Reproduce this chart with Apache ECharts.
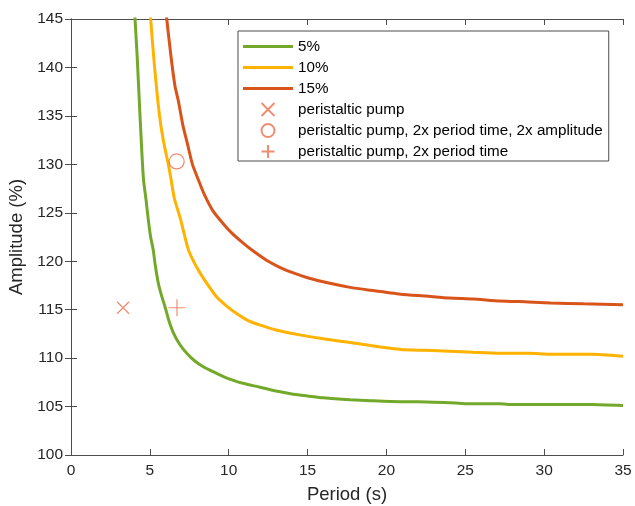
<!DOCTYPE html>
<html>
<head>
<meta charset="utf-8">
<script src="https://cdn.jsdelivr.net/npm/echarts@6/dist/echarts.min.js"></script>
<style>html,body{margin:0;padding:0;background:#fff}#c{width:635px;height:506px}</style>
</head>
<body>
<div id="c"></div>
<script>
// ---- data ----
const xTicks = [0, 5, 10, 15, 20, 25, 30, 35];
const yTicks = [100, 105, 110, 115, 120, 125, 130, 135, 140, 145];

const p5X  = [4.00, 4.06, 4.2, 4.37, 4.5, 4.6, 4.76, 4.9, 5.05, 5.21, 5.35, 5.54, 5.75, 5.96, 6.2, 6.49, 6.9, 7.34, 7.85, 8.39, 9.0, 9.66, 10.3, 10.9, 11.98, 13, 14, 15, 16, 17.7, 19, 20.9, 22, 24, 25, 27.2, 28, 30.4, 33, 35];
const p5Y  = [147, 145, 141, 135.2, 131, 128.4, 126.3, 124.3, 122.5, 121.2, 119.5, 117.7, 116.4, 115.3, 113.9, 112.6, 111.4, 110.5, 109.7, 109.1, 108.6, 108.1, 107.7, 107.4, 107.0, 106.6, 106.3, 106.1, 105.9, 105.7, 105.6, 105.5, 105.5, 105.4, 105.3, 105.3, 105.2, 105.2, 105.2, 105.1];

const p10X = [4.98, 5.05, 5.3, 5.6, 5.85, 6.17, 6.35, 6.55, 6.95, 7.44, 7.8, 8.18, 8.7, 9.24, 9.85, 10.5, 11.2, 12, 13, 14.5, 16, 17.7, 19, 20.9, 22.5, 24, 25.5, 27.2, 29, 30.4, 33, 35];
const p10Y = [147, 145, 140, 135.2, 132.5, 130, 128.4, 126.5, 124.3, 121.2, 119.9, 118.8, 117.5, 116.3, 115.4, 114.6, 113.9, 113.4, 112.9, 112.4, 112, 111.6, 111.3, 110.9, 110.8, 110.7, 110.6, 110.5, 110.5, 110.4, 110.4, 110.2];

const p15X = [5.95, 6.07, 6.35, 6.6, 6.8, 7.1, 7.4, 7.7, 8.1, 8.45, 9.0, 9.64, 10.2, 10.9, 11.6, 12.4, 13.2, 14.1, 15, 16.2, 17.7, 19, 20.9, 22.5, 24, 25.5, 27.2, 29, 30.4, 32.5, 35];
const p15Y = [147, 145, 141, 138, 136.6, 134, 132, 130, 128.3, 126.9, 125.2, 123.9, 122.9, 121.9, 121.0, 120.1, 119.4, 118.8, 118.3, 117.8, 117.3, 117, 116.6, 116.4, 116.2, 116.1, 115.9, 115.8, 115.7, 115.6, 115.5];

const pumpPoint = [3.3, 115.2];
const pump2x2xPoint = [6.7, 130.3];
const pump2xPoint = [6.72, 115.2];

const names = ['5%', '10%', '15%', 'peristaltic pump', 'peristaltic pump, 2x period time, 2x amplitude', 'peristaltic pump, 2x period time'];
// ---- end data ----

const zip = (xs, ys) => xs.map((x, i) => [x, ys[i]]);
const FONT = '"Liberation Sans", Arial, Helvetica, sans-serif';
const AX = '#4d4d4d';
const MARK = '#ec6f4f';
const lineIcon = 'path://M0,0H50V3H0Z';
const crossPath = 'path://M0,0L10,10M10,0L0,10';
const plusPath = 'path://M5,0L5,10M0,5L10,5';

const chart = echarts.init(document.getElementById('c'), null, {renderer: 'canvas'});

const baseX = {
  type: 'value', min: xTicks[0], max: xTicks[xTicks.length - 1], interval: 5,
  axisLine: {show: true, lineStyle: {color: AX, width: 1}},
  axisTick: {show: true, inside: true, length: 6, lineStyle: {color: AX}},
  splitLine: {show: false}
};
const baseY = {
  type: 'value', min: yTicks[0], max: yTicks[yTicks.length - 1], interval: 5,
  axisLine: {show: true, lineStyle: {color: AX, width: 1}},
  axisTick: {show: true, inside: true, length: 6, lineStyle: {color: AX}},
  splitLine: {show: false}
};

const lineSeries = (name, xs, ys, color) => ({
  name, type: 'line', data: zip(xs, ys), symbol: 'none', showSymbol: false, smooth: 0.2,
  lineStyle: {color, width: 3}, itemStyle: {color}, clip: true, z: 2, animation: false
});

chart.setOption({
  animation: false,
  backgroundColor: '#fff',
  textStyle: {fontFamily: FONT},
  grid: {left: 71, right: 12, top: 19, bottom: 51, containLabel: false, outerBoundsMode: 'none'},
  xAxis: [
    Object.assign({}, baseX, {
      position: 'bottom',
      name: 'Period (s)', nameLocation: 'middle', nameGap: 30,
      nameTextStyle: {fontSize: 18.5, color: '#262626', fontFamily: FONT},
      axisLabel: {show: true, margin: 8, fontSize: 15.5, color: '#262626', fontFamily: FONT}
    }),
    Object.assign({}, baseX, {position: 'top', axisLabel: {show: false}})
  ],
  yAxis: [
    Object.assign({}, baseY, {
      position: 'left',
      name: 'Amplitude (%)', nameLocation: 'middle', nameGap: 36,
      nameTextStyle: {fontSize: 18.5, color: '#262626', fontFamily: FONT},
      axisLabel: {show: true, margin: 8, fontSize: 15.5, color: '#262626', fontFamily: FONT}
    }),
    Object.assign({}, baseY, {position: 'right', axisLabel: {show: false}})
  ],
  legend: {
    orient: 'vertical', left: 238, top: 31,
    padding: [8, 6, 2, 5],
    backgroundColor: '#fff', borderColor: '#4d4d4d', borderWidth: 1, borderRadius: 0,
    itemWidth: 50, itemHeight: 13, itemGap: 6,
    textStyle: {fontSize: 15.2, color: '#000', fontFamily: FONT, lineHeight: 14},
    data: [
      {name: names[0], icon: lineIcon},
      {name: names[1], icon: lineIcon},
      {name: names[2], icon: lineIcon},
      {name: names[3], icon: crossPath},
      {name: names[4], icon: 'circle'},
      {name: names[5], icon: plusPath}
    ]
  },
  series: [
    lineSeries(names[0], p5X, p5Y, '#72a92a'),
    lineSeries(names[1], p10X, p10Y, '#ffb200'),
    lineSeries(names[2], p15X, p15Y, '#d9541a'),
    {name: names[3], type: 'scatter', data: [pumpPoint], symbol: crossPath, symbolSize: 12,
     itemStyle: {color: 'rgba(0,0,0,0)', borderColor: MARK, borderWidth: 1.2}, z: 3},
    {name: names[4], type: 'scatter', data: [pump2x2xPoint], symbol: 'circle', symbolSize: 15,
     itemStyle: {color: 'rgba(0,0,0,0)', borderColor: MARK, borderWidth: 1.2}, z: 3},
    {name: names[5], type: 'scatter', data: [pump2xPoint], symbol: plusPath, symbolSize: 17,
     itemStyle: {color: 'rgba(0,0,0,0)', borderColor: MARK, borderWidth: 1.2}, z: 3}
  ]
});
</script>
</body>
</html>
